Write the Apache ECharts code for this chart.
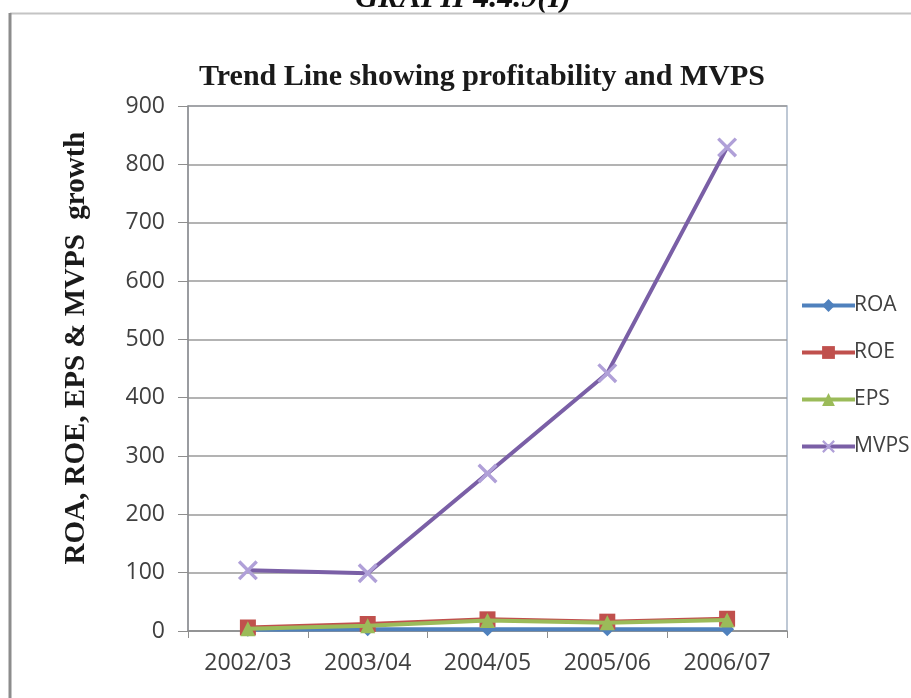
<!DOCTYPE html>
<html>
<head>
<meta charset="utf-8">
<script src="https://cdn.jsdelivr.net/npm/echarts@6/dist/echarts.min.js"></script>
<style>
  html, body { margin: 0; padding: 0; background: #ffffff; }
  #chart { width: 911px; height: 698px; }
</style>
</head>
<body>
<div id="chart"></div>
<script>
// Financial years on the category axis
const years = ['2002/03', '2003/04', '2004/05', '2005/06', '2006/07'];

// Ratios per year
const roa = [2, 3, 3, 3, 3];
const roe = [6, 12, 20, 16, 21];
const eps = [4, 9, 18, 14, 19];
const mvps = [104, 99, 270, 442, 829];

// Value axis range
const yMin = 0;
const yMax = 900;
const yStep = 100;

const crossSymbol = 'path://M0,1.2 L1.2,0 L10,8.8 L8.8,10 Z M8.8,0 L10,1.2 L1.2,10 L0,8.8 Z';

const chart = echarts.init(document.getElementById('chart'), null, { renderer: 'canvas' });

function lineSeries(name, data, color, symbol, size, markerColor, z) {
  return {
    name: name,
    type: 'line',
    data: data,
    symbol: symbol,
    symbolSize: size,
    showAllSymbol: true,
    z: z,
    lineStyle: { color: color, width: 4 },
    itemStyle: { color: markerColor || color, borderWidth: 0 },
    emphasis: { disabled: true },
    animation: false
  };
}

chart.setOption({
  backgroundColor: '#ffffff',
  animation: false,
  title: {
    text: 'Trend Line showing profitability and MVPS',
    left: 477,
    top: 57,
    textAlign: 'center',
    textStyle: {
      fontFamily: 'Liberation Serif',
      fontWeight: 'bold',
      fontSize: 30,
      color: '#1a1a1a'
    }
  },
  graphic: [
    {
      type: 'text',
      left: 355,
      top: -17,
      style: {
        text: 'GRAPH 4.4.9(I)',
        fontFamily: 'Liberation Serif',
        fontStyle: 'italic',
        fontWeight: 'bold',
        fontSize: 32,
        fill: '#111111'
      }
    },
    {
      type: 'line',
      shape: { x1: 10, y1: 13.5, x2: 911, y2: 13.5 },
      style: { stroke: '#c4c4c4', lineWidth: 2 }
    },
    {
      type: 'line',
      shape: { x1: 10, y1: 13, x2: 10, y2: 698 },
      style: { stroke: '#8c8c8c', lineWidth: 3 }
    },
    {
      // value axis title
      type: 'text',
      x: 77,
      y: 348,
      rotation: Math.PI / 2,
      style: {
        text: 'ROA, ROE, EPS & MVPS  growth',
        fontFamily: 'Liberation Serif',
        fontWeight: 'bold',
        fontSize: 29,
        fill: '#1a1a1a',
        align: 'center',
        verticalAlign: 'middle'
      }
    }
  ],
  legend: {
    orient: 'vertical',
    left: 795,
    top: 290,
    itemWidth: 53,
    itemHeight: 16,
    itemGap: 26,
    data: ['ROA', 'ROE', 'EPS', 'MVPS'],
    lineStyle: { width: 4 },
    textStyle: {
      fontFamily: 'Open Sans',
      fontSize: 21,
      lineHeight: 20,
      color: '#404040',
      padding: [0, 0, 0, -6]
    }
  },
  grid: {
    left: 188,
    right: 124,
    top: 106,
    bottom: 67,
    show: true,
    borderColor: '#a9b6c8',
    borderWidth: 1.5,
    backgroundColor: 'transparent'
  },
  xAxis: {
    type: 'category',
    data: years,
    boundaryGap: true,
    axisLine: { show: true, lineStyle: { color: '#8e8e8e', width: 1.5 } },
    axisTick: { show: true, length: 7, lineStyle: { color: '#8e8e8e' } },
    axisLabel: {
      fontFamily: 'Open Sans',
      fontSize: 23,
      color: '#404040',
      margin: 21
    },
    splitLine: { show: false }
  },
  yAxis: {
    type: 'value',
    min: yMin,
    max: yMax,
    interval: yStep,
    axisLine: { show: true, lineStyle: { color: '#8e8e8e', width: 1.5 } },
    axisTick: { show: true, length: 10, lineStyle: { color: '#8e8e8e' } },
    axisLabel: {
      fontFamily: 'Open Sans',
      fontSize: 23,
      color: '#404040',
      margin: 23
    },
    splitLine: { show: true, lineStyle: { color: '#9a9a9a', width: 1.5 } }
  },
  series: [
    lineSeries('ROA', roa, '#4f81bd', 'diamond', 14, '#4f81bd', 2),
    lineSeries('ROE', roe, '#c0504d', 'rect', 16, '#c0504d', 3),
    lineSeries('EPS', eps, '#9bbb59', 'triangle', 15, '#9bbb59', 4),
    lineSeries('MVPS', mvps, '#7a5fa6', crossSymbol, 20, '#b0a0d8', 5)
  ]
});
</script>
</body>
</html>
